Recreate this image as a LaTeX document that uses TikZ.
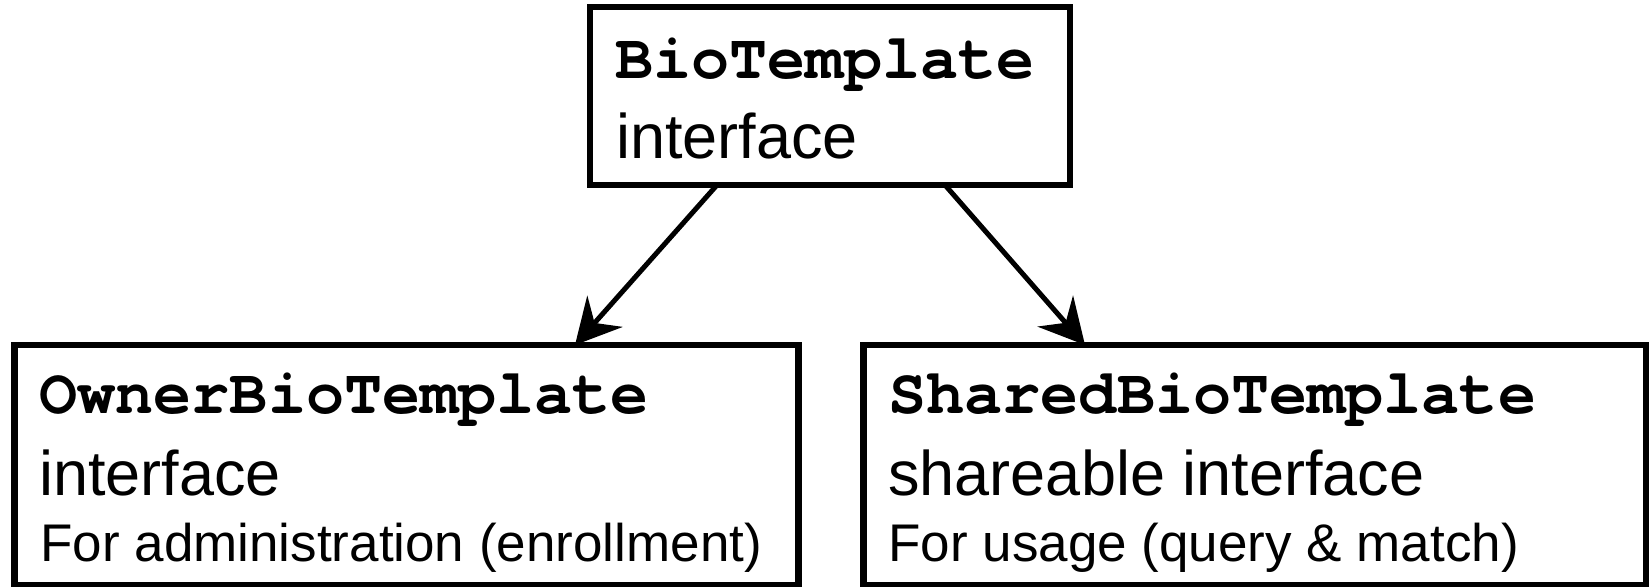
\documentclass[tikz,border=0pt]{standalone}
\usepackage{fontspec}
\setmainfont{Liberation Sans}
\newfontfamily\cursorfont{TeX Gyre Cursor}
\usetikzlibrary{arrows.meta}

\begin{document}
\begin{tikzpicture}[x=0.5pt, y=-0.5pt,
    box/.style = {shape=rectangle, draw, line width=3.25pt, inner sep=0pt, outer sep=0pt},
    iname/.style = {anchor=base west, inner sep=0pt, font=\cursorfont\bfseries\fontsize{31.75}{38}\selectfont},
    kind/.style = {anchor=base west, inner sep=0pt, font=\fontsize{31.5}{38}\selectfont},
    note/.style = {anchor=base west, inner sep=0pt, font=\fontsize{26.5}{32}\selectfont},
    inherit/.style = {line width=2.5pt, -{Stealth[length=22.5pt, width=23.5pt, inset=7.75pt]}}]
\useasboundingbox (0,0) rectangle (1649,586);
% boxes
\node[box, minimum width=240pt, minimum height=89pt] (bio) at (830,96) {};
\node[box, minimum width=392pt, minimum height=120pt] (owner) at (406.5,465) {};
\node[box, minimum width=391.5pt, minimum height=120pt] (shared) at (1255,465) {};
% texts
\node[iname] (bio-name) at (615,78) {BioTemplate};
\node[kind] (bio-kind) at (616,158) {interface};
\node[iname] (owner-name) at (39,413) {OwnerBioTemplate};
\node[kind] (owner-kind) at (39,495) {interface};
\node[note] (owner-note) at (40,561) {For administration (enrollment)};
\node[iname] (shared-name) at (888,413) {SharedBioTemplate};
\node[kind] (shared-kind) at (888,495) {shareable interface};
\node[note] (shared-note) at (888,561) {For usage (query \& match)};
% arrows
\draw[inherit] ([xshift=-56.5pt]bio.south) -- ([xshift=84.25pt]owner.north);
\draw[inherit] ([xshift=57.5pt]bio.south) -- ([xshift=-85pt]shared.north);
\end{tikzpicture}
\end{document}
